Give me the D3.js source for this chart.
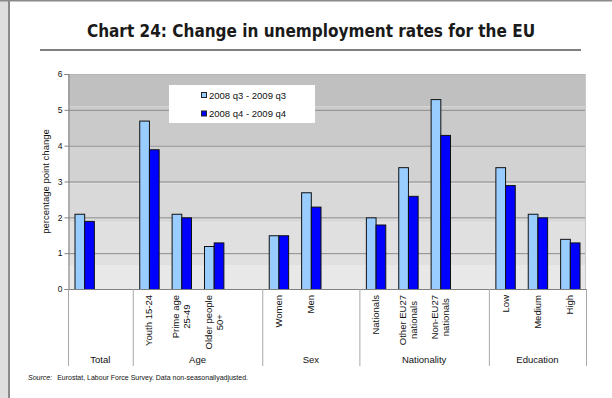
<!DOCTYPE html>
<html>
<head>
<meta charset="utf-8">
<script src="https://cdn.jsdelivr.net/npm/d3@7"></script>
<style>
  html, body { margin: 0; padding: 0; background: #fff; }
  svg { display: block; }
</style>
</head>
<body>
<div id="chart"></div>
<script>
// categories (blank entries are the gaps Excel leaves between groups;
// the Total bar has no sub-label of its own)
const categories = ["", "", "Youth 15-24", "Prime age|25-49", "Older people|50+", "",
  "Women", "Men", "", "Nationals", "Other EU27|nationals", "Non-EU27|nationals", "",
  "Low", "Medium", "High"];
const seriesNames = ["2008 q3 - 2009 q3", "2008 q4 - 2009 q4"];
const q3Values = [2.1, null, 4.7, 2.1, 1.2, null, 1.5, 2.7, null, 2.0, 3.4, 5.3, null, 3.4, 2.1, 1.4];
const q4Values = [1.9, null, 3.9, 2.0, 1.3, null, 1.5, 2.3, null, 1.8, 2.6, 4.3, null, 2.9, 2.0, 1.3];
const groupNames = ["Total", "Age", "Sex", "Nationality", "Education"];
const groupSizes = [2, 4, 3, 4, 3];
const yTicks = [0, 1, 2, 3, 4, 5, 6];
// stepped background shading of the plot area (value at top of each band)
const bandTops = [6, 5.1, 4, 2.95, 1.85, 0.67];
const bandColors = ["#c0c0c0", "#cacaca", "#d2d2d2", "#d9d9d9", "#e0e0e0", "#e8e8e8"];

const W = 612, H = 398;
const margin = {top: 74, right: 26, bottom: 109, left: 68},
    width = W - margin.left - margin.right,
    height = H - margin.top - margin.bottom;

const svg = d3.select("#chart").append("svg")
    .attr("width", W)
    .attr("height", H);

// page frame
svg.append("rect").attr("x", 0).attr("y", 0).attr("width", 8).attr("height", H).attr("fill", "#dedede");
svg.append("rect").attr("x", 8).attr("y", 0).attr("width", 2).attr("height", H).attr("fill", "#8a8a8a");
svg.append("rect").attr("x", 0).attr("y", 0).attr("width", W).attr("height", 1.5).attr("fill", "#8a8a8a");

// title
svg.append("text")
    .attr("x", 311)
    .attr("y", 37)
    .attr("text-anchor", "middle")
    .style("font-family", "'DejaVu Sans Condensed', 'DejaVu Sans', sans-serif")
    .style("font-weight", "bold")
    .style("font-size", "17px")
    .style("fill", "#1a1a1a")
    .text("Chart 24: Change in unemployment rates for the EU");

svg.append("line")
    .attr("x1", 40).attr("x2", 581)
    .attr("y1", 50).attr("y2", 50)
    .attr("stroke", "#808080")
    .attr("stroke-width", 2);

const g = svg.append("g")
    .attr("transform", `translate(${margin.left},${margin.top})`);

const x = d3.scaleBand()
    .domain(d3.range(categories.length))
    .range([0, width]);

const x1 = d3.scaleBand()
    .domain([0, 1])
    .range([0, x.bandwidth()])
    .paddingOuter(0.67);

const y = d3.scaleLinear()
    .domain([0, 6])
    .range([height, 0]);

// background bands
bandTops.forEach((t, i) => {
  const b = i + 1 < bandTops.length ? bandTops[i + 1] : 0;
  g.append("rect")
    .attr("x", 0)
    .attr("y", y(t))
    .attr("width", width)
    .attr("height", y(b) - y(t))
    .attr("fill", bandColors[i]);
});

// gridlines
g.append("g")
  .selectAll("line")
  .data(yTicks.filter(d => d > 0))
  .join("line")
    .attr("x1", 0).attr("x2", width)
    .attr("y1", d => y(d) + 0.5).attr("y2", d => y(d) + 0.5)
    .attr("stroke", d => d === 6 ? "#b4b4b4" : "#8c8c8c")
    .attr("stroke-width", 1);

// right edge of plot area
g.append("line")
    .attr("x1", width - 0.5).attr("x2", width - 0.5)
    .attr("y1", 0).attr("y2", height)
    .attr("stroke", "#c8c8c8");

// bars
const rows = categories.map((c, i) => ({i, vals: [q3Values[i], q4Values[i]]}))
  .filter(d => d.vals[0] !== null);
const fills = ["#99ccff", "#0000ff"];

const bars = g.append("g")
  .selectAll("g")
  .data(rows)
  .join("g")
    .attr("transform", d => `translate(${x(d.i)},0)`);

bars.selectAll("rect")
  .data(d => d.vals.map((v, k) => ({k, v})))
  .join("rect")
    .attr("x", d => x1(d.k) + 0.5)
    .attr("y", d => y(d.v) + 0.5)
    .attr("width", x1.bandwidth())
    .attr("height", d => height - y(d.v))
    .attr("fill", d => fills[d.k])
    .attr("stroke", "#111")
    .attr("stroke-width", 1);

// y axis
const yAxis = g.append("g")
    .attr("transform", "translate(0.5,0)")
    .call(d3.axisLeft(y).tickValues(yTicks).tickSize(4).tickFormat(d3.format("d")));
yAxis.select(".domain").attr("stroke", "#808080");
yAxis.selectAll(".tick line").attr("stroke", "#808080");
yAxis.selectAll(".tick text")
    .attr("x", -6)
    .style("font-family", "'Liberation Sans', Arial, sans-serif")
    .style("font-size", "8.5px")
    .style("fill", "#111");

// zero line
g.append("line")
    .attr("x1", 0).attr("x2", width)
    .attr("y1", height + 0.5).attr("y2", height + 0.5)
    .attr("stroke", "#808080");

// y axis title
svg.append("text")
    .attr("transform", `translate(49,${margin.top + height / 2}) rotate(-90)`)
    .attr("text-anchor", "middle")
    .style("font-family", "'Liberation Sans', Arial, sans-serif")
    .style("font-size", "9.5px")
    .style("fill", "#111")
    .text("percentage point change");

// legend
const legend = svg.append("g").attr("transform", "translate(169,85)");
legend.append("rect")
    .attr("width", 146).attr("height", 38)
    .attr("fill", "#fff");
seriesNames.forEach((s, k) => {
  legend.append("rect")
    .attr("x", 32.5).attr("y", 7.5 + k * 18.5)
    .attr("width", 5).attr("height", 5)
    .attr("fill", fills[k])
    .attr("stroke", "#222");
  legend.append("text")
    .attr("x", 40).attr("y", 13.5 + k * 18.5)
    .style("font-family", "'Liberation Sans', Arial, sans-serif")
    .style("font-size", "9.5px")
    .style("fill", "#111")
    .text(s);
});

// category labels (rotated, possibly two lines, centred)
const labelTop = height + 6;
const catFont = "9.5px";
categories.forEach((c, i) => {
  if (!c) return;
  const lines = c.split("|");
  const cx = x(i) + x.bandwidth() / 2;
  const t = g.append("text")
      .style("font-family", "'Liberation Sans', Arial, sans-serif")
      .style("font-size", catFont)
      .style("fill", "#111")
      .attr("text-anchor", "middle");
  lines.forEach((ln, j) => {
    t.append("tspan").attr("x", 0).attr("dy", j === 0 ? 0 : 11).text(ln);
  });
  const maxLen = d3.max(t.selectAll("tspan").nodes(), n => n.getComputedTextLength());
  const shift = (lines.length - 1) * 11 / 2;
  t.attr("transform", `translate(${cx + 3.5 - shift},${labelTop + maxLen / 2}) rotate(-90)`);
});

// group dividers and names
let start = 0;
const bounds = [0];
groupSizes.forEach(n => { start += n; bounds.push(start); });
g.append("g")
  .selectAll("line")
  .data(bounds)
  .join("line")
    .attr("x1", d => (d === categories.length ? width : x(d)) + 0.5)
    .attr("x2", d => (d === categories.length ? width : x(d)) + 0.5)
    .attr("y1", height)
    .attr("y2", height + 77)
    .attr("stroke", "#a8a8a8");

g.append("g")
  .selectAll("text")
  .data(groupNames)
  .join("text")
    .attr("x", (d, i) => {
      const a = x(bounds[i]);
      const b = bounds[i + 1] === categories.length ? width : x(bounds[i + 1]);
      return (a + b) / 2;
    })
    .attr("y", height + 74)
    .attr("text-anchor", "middle")
    .style("font-family", "'Liberation Sans', Arial, sans-serif")
    .style("font-size", "9.5px")
    .style("fill", "#111")
    .text(d => d);

// source note
const src = svg.append("text")
    .attr("x", 28)
    .attr("y", 380)
    .style("font-family", "'Liberation Sans', Arial, sans-serif")
    .style("font-size", "7px")
    .style("fill", "#111");
src.append("tspan").style("font-style", "italic").text("Source:");
src.append("tspan").attr("dx", 5).text("Eurostat, Labour Force Survey. Data non-seasonallyadjusted.");
</script>
</body>
</html>
